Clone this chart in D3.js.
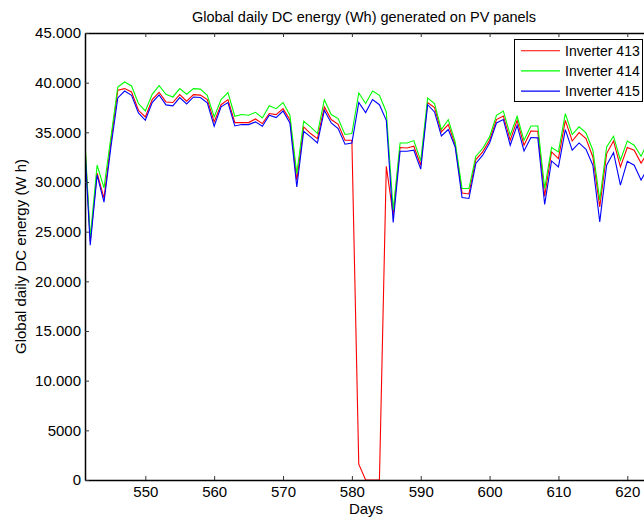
<!DOCTYPE html>
<html>
<head>
<meta charset="utf-8">
<script src="https://cdn.jsdelivr.net/npm/d3@7/dist/d3.min.js"></script>
<style>
  body { margin: 0; background: #fff; }
  svg { display: block; }
  text { font-family: "Liberation Sans", Arial, Helvetica, sans-serif; fill: #000; }
</style>
</head>
<body>
<div id="content"></div>
<script>
const firstDay = 541;

const inv413 = [36700, 24040, 30900, 28370, 34000, 39230, 39400, 39060, 37220, 36550,
  38290, 39030, 38060, 38000, 38800, 38130, 38800, 38750, 38290, 36050,
  37780, 38290, 35980, 35980, 35980, 36350, 35880, 36890, 36790, 37390,
  36280, 30180, 35550, 34880, 34370, 37560, 36290, 35810, 34200, 34200,
  1600, 0, 0, 0, 31590, 26660, 33470, 33430, 33600, 31690,
  38000, 37500, 35040, 35780, 33770, 28900, 28800, 32260, 33030, 34200,
  36290, 36650, 34200, 36210, 33700, 35140, 35110, 28570, 33030, 32360,
  36210, 34130, 34980, 34370, 32520, 27490, 32860, 34130, 31520, 33470,
  33200, 31900, 33000];

const inv414 = [37090, 24350, 31700, 29400, 34500, 39570, 40070, 39670, 37900, 37150,
  38830, 39700, 38830, 38560, 39400, 38830, 39400, 39350, 38730, 36550,
  38300, 39000, 36620, 36790, 36720, 37020, 36450, 37680, 37380, 38000,
  36720, 30850, 36120, 35550, 34880, 38290, 36790, 36390, 34780, 34880,
  38960, 37900, 39160, 38730, 37050, 27160, 33930, 33930, 34170, 32120,
  38460, 37900, 35280, 36280, 34030, 29340, 29340, 32600, 33370, 34540,
  36720, 37150, 34710, 36620, 34200, 35640, 35640, 29340, 33470, 33030,
  36890, 34780, 35550, 34940, 33200, 28170, 33530, 34610, 32190, 34130,
  33700, 32600, 34000];

const inv415 = [36220, 23640, 30700, 27970, 33500, 38460, 39160, 38730, 36950, 36210,
  38000, 38760, 37760, 37660, 38500, 37860, 38560, 38500, 37960, 35610,
  37560, 38000, 35640, 35780, 35780, 36050, 35610, 36720, 36490, 37150,
  35940, 29500, 35110, 34540, 33930, 37220, 35940, 35380, 33800, 33930,
  38000, 36990, 38300, 37780, 36210, 25920, 33100, 33100, 33200, 31290,
  37780, 37050, 34640, 35280, 33530, 28440, 28340, 31860, 32700, 33930,
  35940, 36290, 33700, 35710, 33130, 34480, 34440, 27740, 32120, 31520,
  35280, 33200, 33930, 33300, 31690, 25990, 31690, 32960, 29680, 32090,
  31690, 30200, 31400];

const seriesNames = ["Inverter 413", "Inverter 414", "Inverter 415"];
const seriesColors = ["#ff0000", "#00ff00", "#0000ff"];

const xTicks = [550, 560, 570, 580, 590, 600, 610, 620];
const yTicks = [0, 5000, 10000, 15000, 20000, 25000, 30000, 35000, 40000, 45000];
const yTickLabels = ["0", "5000", "10.000", "15.000", "20.000", "25.000", "30.000", "35.000", "40.000", "45.000"];

const series = [inv413, inv414, inv415].map((vals, i) => ({
  name: seriesNames[i],
  color: seriesColors[i],
  values: vals.map((v, j) => ({ day: firstDay + j, value: v })),
}));

const totalW = 644, totalH = 521;
const margin = { top: 33, right: -16, bottom: 41, left: 85 };
const width = totalW - margin.left - margin.right;
const height = totalH - margin.top - margin.bottom;

const root = d3.select("#content")
  .append("svg")
  .attr("width", totalW)
  .attr("height", totalH);

const svg = root.append("g")
  .attr("transform", `translate(${margin.left},${margin.top})`);

const x = d3.scaleLinear().domain([541.24, 624.75]).range([0, width]);
const y = d3.scaleLinear().domain([0, 45000]).range([height, 0]);

svg.append("clipPath")
  .attr("id", "plot-clip")
  .append("rect")
  .attr("width", width)
  .attr("height", height + 1)
  .attr("y", -1);

const line = d3.line()
  .x((d) => x(d.day))
  .y((d) => y(d.value));

svg.append("g")
  .attr("clip-path", "url(#plot-clip)")
  .selectAll("path")
  .data(series)
  .enter()
  .append("path")
  .attr("fill", "none")
  .attr("stroke", (d) => d.color)
  .attr("stroke-width", 1.1)
  .attr("stroke-linejoin", "miter")
  .attr("d", (d) => line(d.values));

// axes (MATLAB style: ticks pointing inward)
const xAxis = svg.append("g")
  .attr("transform", `translate(0,${height})`)
  .call(d3.axisBottom(x).tickValues(xTicks).tickSize(-4).tickSizeOuter(0).tickPadding(6));

svg.append("g")
  .call(d3.axisTop(x).tickValues(xTicks).tickSize(-4).tickSizeOuter(0).tickFormat(""));

const yAxis = svg.append("g")
  .call(d3.axisLeft(y).tickValues(yTicks).tickSize(-4).tickSizeOuter(0).tickPadding(4)
    .tickFormat((d, i) => yTickLabels[i]));

svg.selectAll(".domain").attr("stroke", "#000").attr("stroke-width", 1.5);
svg.selectAll(".tick line").attr("stroke", "#333");
svg.selectAll(".tick text")
  .attr("font-family", '"Liberation Sans", Arial, sans-serif')
  .attr("font-size", 15)
  .attr("fill", "#000");

// labels
root.append("text")
  .attr("x", 364)
  .attr("y", 22)
  .attr("text-anchor", "middle")
  .attr("font-size", 14.5)
  .text("Global daily DC energy (Wh) generated on PV panels");

root.append("text")
  .attr("x", 366)
  .attr("y", 514)
  .attr("text-anchor", "middle")
  .attr("font-size", 15)
  .text("Days");

root.append("text")
  .attr("transform", `translate(26,${margin.top + height / 2}) rotate(-90)`)
  .attr("text-anchor", "middle")
  .attr("font-size", 15)
  .text("Global daily DC energy (W h)");

// legend
const legend = root.append("g").attr("transform", "translate(514,39)");

legend.append("rect")
  .attr("x", 0.5)
  .attr("y", 0.5)
  .attr("width", 128)
  .attr("height", 62)
  .attr("fill", "#fff")
  .attr("stroke", "#000")
  .attr("stroke-width", 1);

series.forEach((s, i) => {
  const item = legend.append("g")
    .attr("transform", `translate(0,${11.7 + i * 20.2})`);
  item.append("line")
    .attr("x1", 7)
    .attr("x2", 46)
    .attr("stroke", s.color)
    .attr("stroke-width", 1.1);
  item.append("text")
    .attr("x", 51)
    .attr("dy", "0.36em")
    .attr("font-size", 14)
    .text(s.name);
});
</script>
</body>
</html>
